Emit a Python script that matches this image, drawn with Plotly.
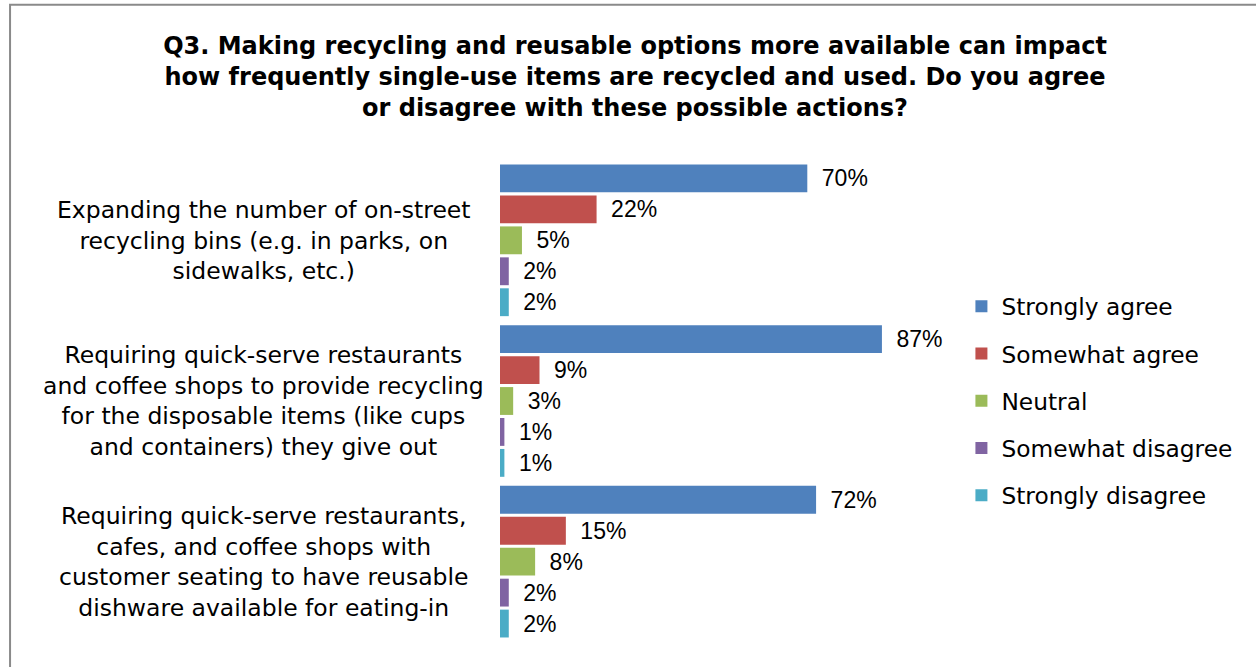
import plotly.graph_objects as go

# Survey statements (line breaks as shown beside each group)
categories = [
    "Expanding the number of on-street<br>recycling bins (e.g. in parks, on<br>sidewalks, etc.)",
    "Requiring quick-serve restaurants<br>and coffee shops to provide recycling<br>for the disposable items (like cups<br>and containers) they give out",
    "Requiring quick-serve restaurants,<br>cafes, and coffee shops with<br>customer seating to have reusable<br>dishware available for eating-in",
]

series_names = ["Strongly agree", "Somewhat agree", "Neutral", "Somewhat disagree", "Strongly disagree"]

strongly_agree = [70, 87, 72]
somewhat_agree = [22, 9, 15]
neutral = [5, 3, 8]
somewhat_disagree = [2, 1, 2]
strongly_disagree = [2, 1, 2]

series_values = [strongly_agree, somewhat_agree, neutral, somewhat_disagree, strongly_disagree]
series_colors = ["#4F81BD", "#C0504D", "#9BBB59", "#8064A2", "#4BACC6"]

title_text = ("Q3. Making recycling and reusable options more available can impact<br>"
              "how frequently single-use items are recycled and used. Do you agree<br>"
              "or disagree with these possible actions?")

FONT = "DejaVu Sans"
LABEL_FONT = "Liberation Sans, DejaVu Sans"
W, H = 1256, 667
# plot area in pixels
PX0, PX1 = 500, 938.6
PY0, PY1 = 160, 642.5

fig = go.Figure()
for i, (name, vals, col) in enumerate(zip(series_names, series_values, series_colors)):
    fig.add_trace(go.Bar(
        y=categories,
        x=vals,
        name=name,
        orientation="h",
        marker=dict(color=col, line=dict(width=0)),
        text=vals,
        texttemplate="\u2002%{x}%",
        textposition="outside",
        textfont=dict(family=LABEL_FONT, size=23, color="#000000"),
        constraintext="none",
        cliponaxis=False,
        legendgroup=name,
        hoverinfo="skip",
    ))

pw = PX1 - PX0
ph = PY1 - PY0


def xp(px):
    return (px - PX0) / pw


def yp(py):
    return (PY1 - py) / ph


annotations = []
for cat in categories:
    annotations.append(dict(
        x=xp(264), xref="paper", y=cat, yref="y",
        text=cat, showarrow=False, align="center",
        xanchor="center", yanchor="middle",
        font=dict(family=FONT, size=23.5, color="#000000"),
    ))

fig.update_layout(
    width=W, height=H,
    margin=dict(l=PX0, r=W - PX1, t=PY0, b=H - PY1, autoexpand=False),
    paper_bgcolor="white",
    plot_bgcolor="white",
    barmode="group",
    bargap=0.037,
    bargroupgap=0.1,
    title=dict(
        text=title_text,
        x=635 / W, xanchor="center", xref="container",
        y=1 - 54 / H, yanchor="middle", yref="container",
        font=dict(family=FONT, size=24, color="#000000", weight="bold"),
    ),
    xaxis=dict(range=[0, 100], visible=False, showgrid=False, zeroline=False),
    yaxis=dict(autorange="reversed", showticklabels=False, showgrid=False,
               zeroline=False, showline=False, ticks=""),
    legend=dict(
        x=xp(961), xanchor="left", y=0.5, yanchor="middle",
        font=dict(family=FONT, size=23.3, color="#000000"),
        tracegroupgap=14,
        bgcolor="rgba(0,0,0,0)",
    ),
    showlegend=True,
    annotations=annotations,
    shapes=[dict(
        type="rect", xref="paper", yref="paper",
        x0=xp(10.5), x1=xp(1270), y0=yp(4.5), y1=yp(680),
        line=dict(color="#8a8a8a", width=2), fillcolor="rgba(0,0,0,0)",
        layer="below",
    )],
)

fig.write_html("out.html")
